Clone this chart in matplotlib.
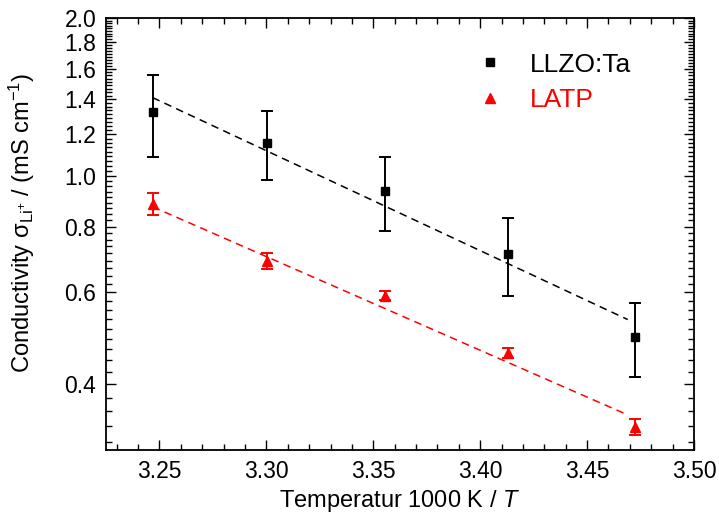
import numpy as np
import matplotlib
matplotlib.use("Agg")
import matplotlib.pyplot as plt
from matplotlib.lines import Line2D
from matplotlib.ticker import FixedLocator, FixedFormatter, NullFormatter

plt.rcParams['font.family'] = ['Liberation Sans', 'DejaVu Sans']
plt.rcParams['mathtext.fontset'] = 'custom'
plt.rcParams['mathtext.rm'] = 'Liberation Sans'
plt.rcParams['mathtext.it'] = 'Liberation Sans:italic'

# ---- data ----
inv_T = [3.2468, 3.3003, 3.3557, 3.4130, 3.4722]
llzo_sigma = [1.323, 1.154, 0.936, 0.711, 0.492]
llzo_err = [0.236, 0.174, 0.152, 0.121, 0.079]
latp_sigma = [0.885, 0.688, 0.591, 0.459, 0.332]
latp_err = [0.044, 0.025, 0.012, 0.010, 0.011]

fit_x = [3.2468, 3.469]
fit_llzo = [1.41, 0.532]
fit_latp = [0.873, 0.350]

y_major = [0.4, 0.6, 0.8, 1.0, 1.2, 1.4, 1.6, 1.8, 2.0]
y_labels = ['0.4', '0.6', '0.8', '1.0', '1.2', '1.4', '1.6', '1.8', '2.0']
x_major = [3.25, 3.30, 3.35, 3.40, 3.45, 3.50]
x_labels = ['3.25', '3.30', '3.35', '3.40', '3.45', '3.50']

# ---- figure ----
fig = plt.figure(figsize=(7.19, 5.21), dpi=100)
ax = fig.add_axes([106/719, 71/521, 588/719, 432/521])

ax.plot(fit_x, fit_llzo, color='black', ls=(0, (5, 3.5)), lw=1.1)
ax.plot(fit_x, fit_latp, color='red', ls=(0, (5, 3.5)), lw=1.1)

ax.errorbar(inv_T, llzo_sigma, yerr=llzo_err, fmt='s', color='black',
            ms=6, capsize=4.5, elinewidth=1.4, capthick=1.4, zorder=3)
ax.errorbar(inv_T, latp_sigma, yerr=latp_err, fmt='^', color='red',
            ms=7.5, capsize=4, elinewidth=1.4, capthick=1.4, zorder=3)

ax.set_yscale('log')
ax.set_xlim(3.225, 3.50)
ax.set_ylim(0.3, 2.0)

ax.yaxis.set_major_locator(FixedLocator(y_major))
ax.yaxis.set_major_formatter(FixedFormatter(y_labels))
minor = []
for a, b in zip([0.2] + y_major[:-1], y_major):
    minor += list(np.linspace(a, b, 10)[1:-1])
ax.yaxis.set_minor_locator(FixedLocator([m for m in minor if m >= 0.3]))
ax.yaxis.set_minor_formatter(NullFormatter())

ax.xaxis.set_major_locator(FixedLocator(x_major))
ax.xaxis.set_major_formatter(FixedFormatter(x_labels))
ax.xaxis.set_minor_locator(FixedLocator(np.arange(3.23, 3.50, 0.01)))

ax.tick_params(which='both', direction='in', top=True, right=True, width=1.0)
ax.tick_params(which='major', length=7, labelsize=16.5, pad=7)
ax.tick_params(which='minor', length=4)
for s in ax.spines.values():
    s.set_linewidth(1.3)

ax.set_xlabel('Temperatur 1000 K / $\\mathit{T}$', fontsize=17, labelpad=4)
ax.set_ylabel('Conductivity σ$_{\\rm Li^{+}}$ / (mS cm$^{-1}$)', fontsize=17)
ax.yaxis.set_label_coords(-0.118, 0.525)

handles = [Line2D([], [], marker='s', color='black', ls='none', ms=6),
           Line2D([], [], marker='^', color='red', ls='none', ms=7.5)]
leg = ax.legend(handles, ['LLZO:Ta', 'LATP'], loc='upper left',
                bbox_to_anchor=(0.59, 0.975), frameon=False, fontsize=19,
                handlelength=1.0, handletextpad=1.0, labelspacing=0.45)
for t, c in zip(leg.get_texts(), ['black', 'red']):
    t.set_color(c)

fig.savefig('out.png', dpi=100)
